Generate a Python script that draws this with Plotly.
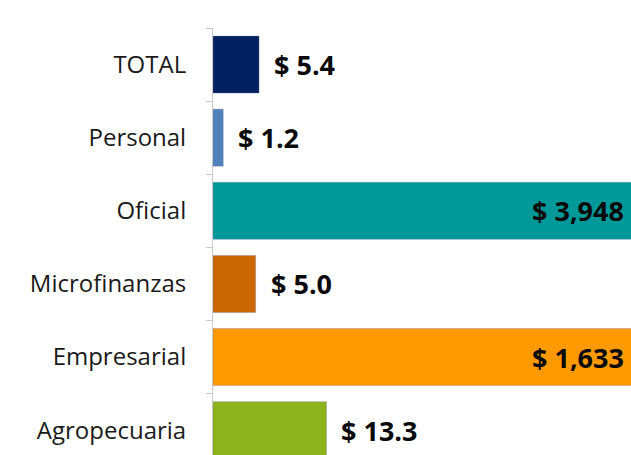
import plotly.graph_objects as go

categories = ["TOTAL", "Personal", "Oficial", "Microfinanzas", "Empresarial", "Agropecuaria"]
values = [5.4, 1.2, 3948, 5.0, 1633, 13.3]
colors = ["#002060", "#4F81BD", "#009999", "#CC6600", "#FF9900", "#8DB31A"]
x_max = 49

def fmt(v):
    return f"$ {v:,.0f}" if v >= 1000 else f"$ {v:.1f}"

fig = go.Figure()
fig.add_trace(go.Bar(
    x=values, y=categories, orientation="h",
    marker=dict(color=colors, line=dict(color="rgba(120,130,160,0.35)", width=1)),
    width=0.78, showlegend=False, hoverinfo="x+y",
))

annotations = []
for c, v in zip(categories, values):
    inside = v > x_max
    annotations.append(dict(
        x=min(v, x_max), y=c, xref="x", yref="y",
        text=f"<b>{fmt(v)}</b>", showarrow=False,
        xanchor="right" if inside else "left",
        xshift=-5 if inside else 13,
        font=dict(family="Open Sans", size=27, color="#0a0a0a"),
    ))

fig.update_layout(
    width=631, height=455,
    margin=dict(l=213, r=0, t=28, b=0),
    paper_bgcolor="white", plot_bgcolor="white",
    annotations=annotations,
    xaxis=dict(range=[0, x_max], visible=False, fixedrange=True),
    yaxis=dict(
        categoryorder="array", categoryarray=categories,
        range=[5.34, -0.5],
        showline=True, linecolor="#c8c8c8", linewidth=1,
        ticks="outside", tickson="boundaries", ticklen=6, tickcolor="#c8c8c8",
        ticklabelstandoff=21,
        tickfont=dict(family="Open Sans", size=24, color="#1a1a1a"),
        showgrid=False, zeroline=False,
    ),
)

fig.write_html(
    "out.html",
    config={"displayModeBar": False},
    post_script="document.body.style.margin='0';document.body.style.overflow='hidden';",
)
